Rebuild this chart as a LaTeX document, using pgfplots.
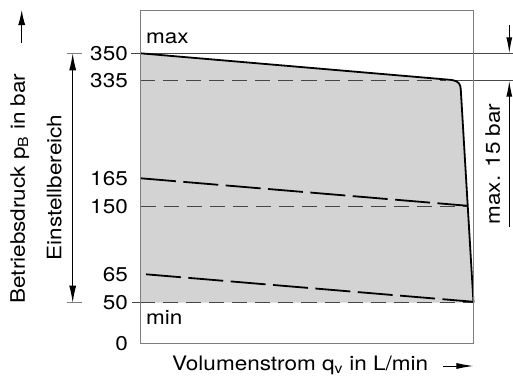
\documentclass[border=0pt]{standalone}
\usepackage{pgfplots}
\pgfplotsset{compat=1.18}
\usepackage{fontspec}
\setmainfont{TeX Gyre Heros}[FakeStretch=1.13]
\usetikzlibrary{arrows.meta}
\definecolor{fillgray}{RGB}{211,211,211}
\definecolor{boxgray}{RGB}{125,125,125}
\definecolor{linegray}{RGB}{70,70,70}

\begin{document}
\begin{tikzpicture}[font=\fontsize{20}{24}\selectfont]
\begin{axis}[
  x=1bp, y=1bp,
  xmin=0, xmax=333.5, ymin=0, ymax=333,
  axis line style={boxgray, line width=1bp},
  axis on top,
  clip=false,
  xtick=\empty,
  ytick={0,40.6,69,136.8,165,262.6,290},
  yticklabels={0,50,65,150,165,335,350},
  major tick length=0pt,
  yticklabel style={anchor=east, inner sep=0pt, xshift=-12.5bp},
]
% shaded operating range
\addplot[fill=fillgray, draw=none] coordinates {
  (0,40.6) (0,290) (306,263.8) (311.5,263.3) (315.5,262.2) (318.3,260.2)
  (319.8,257.3) (320.3,253.6) (333,40.6)};
% thin short-dashed reference lines
\addplot[linegray, line width=0.9bp, dash pattern=on 15bp off 8bp] coordinates {(0,262.6) (306,262.6)};
\addplot[linegray, line width=0.9bp, dash pattern=on 15bp off 8bp] coordinates {(0.5,136.8) (327.3,136.8)};
\addplot[linegray, line width=0.9bp, dash pattern=on 15bp off 8bp] coordinates {(0,40.6) (333,40.6)};
% thin solid lines
\addplot[linegray, line width=0.9bp] coordinates {(-9,290) (372.5,290)};
\addplot[linegray, line width=0.9bp] coordinates {(312.5,262.6) (372.5,262.6)};
\addplot[linegray, line width=0.9bp] coordinates {(-8,40.6) (0,40.6)};
% characteristic curves
\addplot[black, line width=1.8bp, line join=round] coordinates {
  (0,290) (306,263.8) (311.5,263.3) (315.5,262.2) (318.3,260.2)
  (319.8,257.3) (320.3,253.6) (333,40.6)};
\addplot[black, line width=1.8bp, dash pattern=on 35bp off 7.5bp] coordinates {(0.5,165) (327.3,137.5)};
\addplot[black, line width=1.8bp, dash pattern=on 35bp off 7.5bp] coordinates {(5.5,69) (333,41.5)};

% labels inside
\node[anchor=base west, inner sep=0pt] at (axis cs:5.5,300) {max};
\node[anchor=base west, inner sep=0pt] at (axis cs:5.5,19.3) {min};

% x label
\node[anchor=base west, inner sep=0pt] at (axis cs:31.5,-27.4) {Volumenstrom q\textsubscript{v} in L/min};
\draw[black, line width=1bp, -{Latex[length=17bp,width=6bp]}] (axis cs:302.5,-22.7) -- (axis cs:333,-22.7);

% y label
\node[rotate=90, anchor=base, inner sep=0pt] at (axis cs:-115.5,154.8) {Betriebsdruck p\textsubscript{B} in bar};
\draw[black, line width=1bp, -{Latex[length=15bp,width=7bp]}] (axis cs:-118.8,300.3) -- (axis cs:-118.8,333.3);

% Einstellbereich
\node[rotate=90, anchor=base, inner sep=0pt] at (axis cs:-79,155.8) {Einstellbereich};
\draw[boxgray, line width=0.9bp] (axis cs:-73.8,290) -- (axis cs:-58.8,290);
\draw[boxgray, line width=0.9bp] (axis cs:-73.8,40.6) -- (axis cs:-58.8,40.6);
\draw[black, line width=1bp, {Latex[length=17bp,width=7bp]}-{Latex[length=17bp,width=7bp]}] (axis cs:-67.8,290) -- (axis cs:-67.8,40.6);

% max. 15 bar
\node[rotate=90, anchor=base, inner sep=0pt] at (axis cs:359.5,179.3) {max. 15 bar};
\draw[black, line width=1bp, -{Latex[length=16bp,width=6bp]}] (axis cs:368.8,318.3) -- (axis cs:368.8,290);
\draw[black, line width=1bp, -{Latex[length=16bp,width=6bp]}] (axis cs:368.8,116.6) -- (axis cs:368.8,262.6);
\end{axis}
\pgfresetboundingbox
\path (-140.5bp,-34.7bp) rectangle (372.5bp,343.3bp);
\end{tikzpicture}
\end{document}
